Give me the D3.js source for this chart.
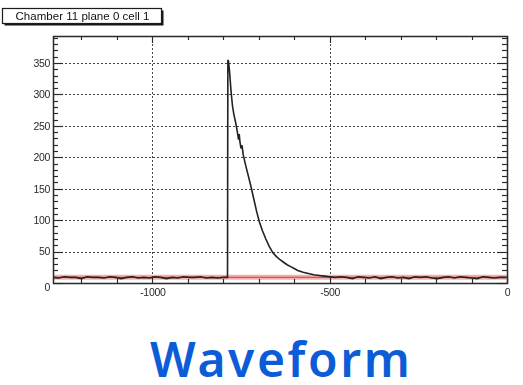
<!DOCTYPE html>
<html>
<head>
<meta charset="utf-8">
<script src="https://cdn.jsdelivr.net/npm/d3@7"></script>
<style>
  html, body { margin: 0; padding: 0; background: #fff; }
  svg { display: block; }
</style>
</head>
<body>
<svg id="chart" width="523" height="385"></svg>
<script>
// Histogram title and caption
const histTitle = "Chamber 11 plane 0 cell 1";
const caption = "Waveform";

// Axis ticks
const xTickValues = [-1000, -500, 0];
const yTickValues = [0, 50, 100, 150, 200, 250, 300, 350];

// Pedestal level (red reference line)
const pedestal = 9;

// Pre-pulse baseline samples
const baseTimes = [-1280, -1264, -1248, -1232, -1216, -1200, -1184, -1168, -1152, -1136,
  -1120, -1104, -1088, -1072, -1056, -1040, -1024, -1008, -992, -976,
  -960, -944, -928, -912, -896, -880, -864, -848, -832, -816, -800, -790, -788];
const baseValues = [9, 8, 10, 9, 9, 7, 10, 9, 9, 8,
  10, 9, 7, 9, 10, 8, 9, 8, 10, 9,
  7, 9, 8, 10, 9, 9, 10, 8, 9, 8, 9, 9, 9];

// Pulse samples
const pulseTimes = [-787, -785, -782, -778, -774, -770, -766, -762, -759, -757,
  -755, -753, -750, -747, -744, -738, -730, -722, -714, -706,
  -698, -690, -680, -670, -660, -650, -640, -630, -620, -610,
  -600, -590, -575, -560, -545, -530, -515, -500];
const pulseValues = [355, 352, 335, 305, 282, 268, 258, 246, 236, 228,
  237, 225, 214, 219, 205, 190, 172, 154, 134, 114,
  97, 84, 70, 58, 48, 42, 37, 33, 29, 26,
  23, 20, 17, 15, 13, 12, 11, 10];

// Post-pulse tail samples
const tailTimes = [-484, -468, -452, -436, -420, -404, -388, -372, -356, -340,
  -324, -308, -292, -276, -260, -244, -228, -212, -196, -180,
  -164, -148, -132, -116, -100, -84, -68, -52, -36, -20, -4];
const tailValues = [9, 10, 9, 7, 10, 9, 8, 10, 7, 9,
  10, 8, 9, 7, 10, 9, 10, 8, 7, 9,
  10, 8, 10, 9, 8, 7, 10, 9, 8, 9, 9];

const times = baseTimes.concat(pulseTimes, tailTimes);
const values = baseValues.concat(pulseValues, tailValues);
const samples = times.map((t, i) => ({ t, v: values[i] }));

const svg = d3.select("#chart");
const frame = { left: 53, right: 507, top: 36, bottom: 283 };

const x = d3.scaleLinear().domain([-1280, 0]).range([frame.left, frame.right]);
const y = d3.scaleLinear().domain([0, 393]).range([frame.bottom, frame.top]);

// soft rendering for the histogram panel
const defs = svg.append("defs");
defs.append("filter").attr("id", "soft")
  .attr("x", "-5%").attr("y", "-5%").attr("width", "110%").attr("height", "110%")
  .append("feGaussianBlur").attr("stdDeviation", 0.6);

const panel = svg.append("g").attr("filter", "url(#soft)");

const font = "'Liberation Sans', Arial, sans-serif";
const ink = "#2a2a2a";

// Dotted grid
const grid = panel.append("g").attr("stroke", "#444").attr("stroke-width", 1)
  .attr("stroke-dasharray", "2,2");
grid.selectAll("line.h").data(yTickValues.filter(d => d > 0)).join("line")
  .attr("x1", frame.left).attr("x2", frame.right)
  .attr("y1", d => Math.round(y(d)) + 0.5).attr("y2", d => Math.round(y(d)) + 0.5);
grid.selectAll("line.v").data(xTickValues.filter(d => d < 0)).join("line")
  .attr("y1", frame.top).attr("y2", frame.bottom)
  .attr("x1", d => Math.round(x(d)) + 0.5).attr("x2", d => Math.round(x(d)) + 0.5);

// Pedestal reference band and line
panel.append("line")
  .attr("x1", frame.left).attr("x2", frame.right)
  .attr("y1", y(pedestal)).attr("y2", y(pedestal))
  .attr("stroke", "#f4a0a0").attr("stroke-width", 5).attr("opacity", 0.85);
panel.append("line")
  .attr("x1", frame.left).attr("x2", frame.right)
  .attr("y1", y(pedestal)).attr("y2", y(pedestal))
  .attr("stroke", "#d9534f").attr("stroke-width", 1.2);

// Waveform trace
const line = d3.line().x(d => x(d.t)).y(d => y(d.v)).curve(d3.curveLinear);
panel.append("path").datum(samples)
  .attr("d", line).attr("fill", "none")
  .attr("stroke", "#222").attr("stroke-width", 1.6);

// Frame
panel.append("rect")
  .attr("x", frame.left + 0.5).attr("y", frame.top + 0.5)
  .attr("width", frame.right - frame.left).attr("height", frame.bottom - frame.top)
  .attr("fill", "none").attr("stroke", ink).attr("stroke-width", 1.5);

// Axis ticks on all four sides
const yMinor = d3.range(0, 391, 10);
const xMinor = d3.range(-1200, 1, 100);
const ticks = panel.append("g").attr("stroke", ink).attr("stroke-width", 1.2);
ticks.selectAll("line.yl").data(yMinor).join("line")
  .attr("x1", frame.left).attr("x2", d => frame.left + (d % 50 === 0 ? 10 : 5))
  .attr("y1", d => Math.round(y(d)) + 0.5).attr("y2", d => Math.round(y(d)) + 0.5);
ticks.selectAll("line.yr").data(yMinor).join("line")
  .attr("x1", frame.right).attr("x2", d => frame.right - (d % 50 === 0 ? 10 : 5))
  .attr("y1", d => Math.round(y(d)) + 0.5).attr("y2", d => Math.round(y(d)) + 0.5);
ticks.selectAll("line.xt").data(xMinor).join("line")
  .attr("y1", frame.top).attr("y2", d => frame.top + (d % 500 === 0 ? 7 : 4))
  .attr("x1", d => Math.round(x(d)) + 0.5).attr("x2", d => Math.round(x(d)) + 0.5);
ticks.selectAll("line.xb").data(xMinor).join("line")
  .attr("y1", frame.bottom).attr("y2", d => frame.bottom - (d % 500 === 0 ? 7 : 4))
  .attr("x1", d => Math.round(x(d)) + 0.5).attr("x2", d => Math.round(x(d)) + 0.5);

// Tick labels through d3 axes (lines hidden, labels kept)
const yAxis = panel.append("g").attr("transform", `translate(${frame.left},0)`)
  .call(d3.axisLeft(y).tickValues(yTickValues).tickSize(0).tickPadding(3)
    .tickFormat(d => String(d)));
const xAxis = panel.append("g").attr("transform", `translate(0,${frame.bottom})`)
  .call(d3.axisBottom(x).tickValues(xTickValues).tickSize(0).tickPadding(6)
    .tickFormat(d => String(d)));
[yAxis, xAxis].forEach(a => {
  a.select(".domain").remove();
  a.selectAll("text").attr("fill", ink).attr("font-family", font)
    .attr("font-size", 10.5).attr("letter-spacing", -0.3);
});
yAxis.selectAll(".tick").filter(d => d === 0).select("text").attr("dy", "0.7em");

// Title box with drop shadow
const tb = { x: 2, y: 8, w: 159, h: 15 };
panel.append("rect").attr("x", tb.x + 2.5).attr("y", tb.y + 2.5)
  .attr("width", tb.w).attr("height", tb.h).attr("fill", "#1a1a1a");
panel.append("rect").attr("x", tb.x + 0.5).attr("y", tb.y + 0.5)
  .attr("width", tb.w).attr("height", tb.h).attr("fill", "#fff")
  .attr("stroke", "#1a1a1a").attr("stroke-width", 1.2);
panel.append("text").attr("x", tb.x + tb.w / 2 + 1).attr("y", tb.y + tb.h / 2 + 4)
  .attr("text-anchor", "middle").attr("font-family", font).attr("font-size", 10.5)
  .attr("textLength", 134).attr("lengthAdjust", "spacingAndGlyphs")
  .attr("fill", "#111").text(histTitle);

// Caption
svg.append("text").attr("x", 150).attr("y", 377)
  .attr("text-anchor", "start")
  .attr("font-family", "'Noto Sans', 'Open Sans', sans-serif")
  .attr("font-weight", 600).attr("font-size", 48).attr("letter-spacing", 2.6)
  .attr("fill", "#0b5cd6").text(caption);
</script>
</body>
</html>
